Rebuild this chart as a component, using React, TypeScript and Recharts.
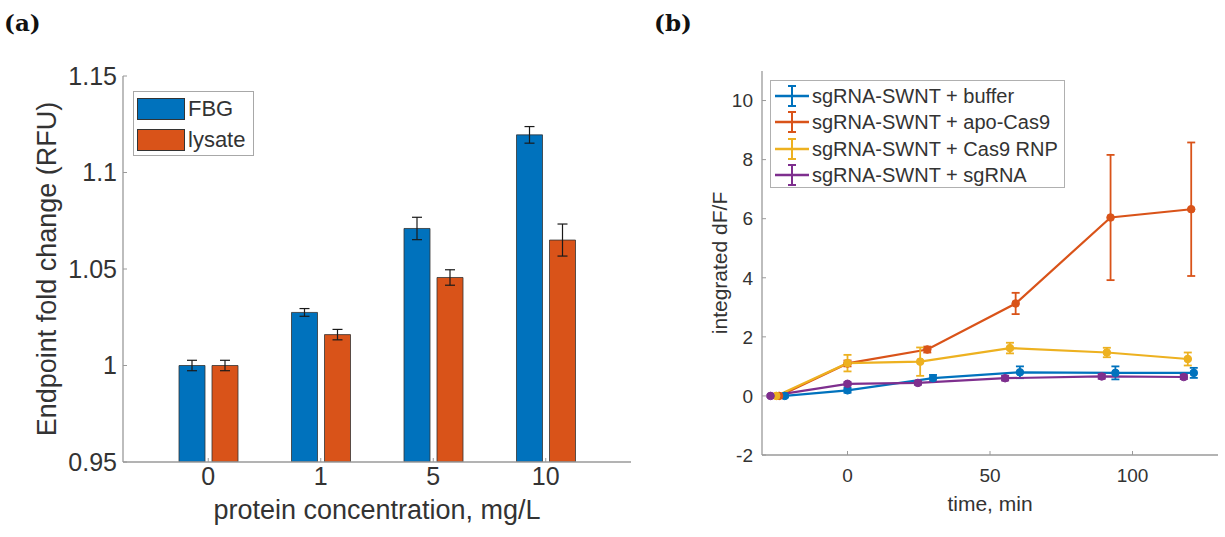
import { BarChart, Bar, LineChart, Line, XAxis, YAxis, ErrorBar, Legend } from 'recharts'

// panel (a): endpoint fold change vs protein concentration
const concLabels = ['0', '1', '5', '10']
const fbgMean = [1.0, 1.0275, 1.071, 1.1195]
const fbgErr = [0.0027, 0.002, 0.0058, 0.0043]
const lysateMean = [1.0, 1.016, 1.0456, 1.065]
const lysateErr = [0.0027, 0.0027, 0.004, 0.0083]
const yTicksA = [0.95, 1, 1.05, 1.1, 1.15]

// panel (b): integrated dF/F over time
const bufferT = [-22, 0, 30, 60.5, 94, 121.5]
const bufferV = [0, 0.19, 0.6, 0.8, 0.78, 0.78]
const bufferE = [0.05, 0.08, 0.11, 0.2, 0.22, 0.17]

const apoT = [-24, 0, 28, 59, 92.3, 120.6]
const apoV = [0, 1.1, 1.57, 3.13, 6.04, 6.32]
const apoE = [0.05, 0.1, 0.1, 0.36, 2.12, 2.26]

const rnpT = [-25, 0, 25.5, 57, 91, 119.4]
const rnpV = [0, 1.11, 1.16, 1.62, 1.47, 1.25]
const rnpE = [0.05, 0.28, 0.48, 0.18, 0.16, 0.22]

const sgT = [-27, 0, 24.7, 55.3, 89.2, 118]
const sgV = [0, 0.41, 0.44, 0.6, 0.66, 0.64]
const sgE = [0.04, 0.06, 0.06, 0.08, 0.08, 0.07]

const xTicksB = [0, 50, 100]
const yTicksB = [-2, 0, 2, 4, 6, 8, 10]

const FONT = '"Liberation Sans", Arial, Helvetica, sans-serif'
const AX = '#9a9a9a'
const TXT = '#333'

const barData = concLabels.map((c, i) => ({
  conc: c,
  fbg: fbgMean[i],
  fbgErr: fbgErr[i],
  lysate: lysateMean[i],
  lysateErr: lysateErr[i],
}))

const toPoints = (t: number[], v: number[], e: number[]) => t.map((x, i) => ({ t: x, v: v[i], e: e[i] }))

const seriesB = [
  { name: 'sgRNA-SWNT + buffer', color: '#0072BD', data: toPoints(bufferT, bufferV, bufferE) },
  { name: 'sgRNA-SWNT + apo-Cas9', color: '#D95319', data: toPoints(apoT, apoV, apoE) },
  { name: 'sgRNA-SWNT + Cas9 RNP', color: '#EDB120', data: toPoints(rnpT, rnpV, rnpE) },
  { name: 'sgRNA-SWNT + sgRNA', color: '#7E2F8E', data: toPoints(sgT, sgV, sgE) },
]
const namesB = seriesB.map((s) => s.name)
const namesA = ['FBG', 'lysate']

function BarLegend({ payload }: { payload?: Array<{ value: string; color: string }> }) {
  return (
    <div style={{ width: 121, height: 65, boxSizing: 'border-box', border: '1.5px solid #a8a8a8', background: '#fff', paddingTop: 1, fontFamily: FONT, fontSize: 22, color: TXT }}>
      {(payload || []).map((p) => (
        <div key={p.value} style={{ display: 'flex', alignItems: 'center', height: 31 }}>
          <span style={{ display: 'inline-block', width: 48, height: 22, marginLeft: 3, boxSizing: 'border-box', border: '1px solid #333', background: p.color }} />
          <span style={{ marginLeft: 3, lineHeight: '22px' }}>{p.value}</span>
        </div>
      ))}
    </div>
  )
}

function LineLegend({ payload }: { payload?: Array<{ value: string; color: string }> }) {
  return (
    <div style={{ width: 295, height: 108, boxSizing: 'border-box', border: '1.5px solid #b0b0b0', background: '#fff', paddingTop: 2, fontFamily: FONT, fontSize: 20, color: TXT }}>
      {(payload || []).map((p) => (
        <div key={p.value} style={{ display: 'flex', alignItems: 'center', height: 26.3 }}>
          <svg width={36} height={24} style={{ marginLeft: 2 }}>
            <line x1={2} y1={12} x2={36} y2={12} stroke={p.color} strokeWidth={2.5} />
            <line x1={19} y1={2} x2={19} y2={22} stroke={p.color} strokeWidth={2} />
            <line x1={15} y1={2} x2={23} y2={2} stroke={p.color} strokeWidth={2} />
            <line x1={15} y1={22} x2={23} y2={22} stroke={p.color} strokeWidth={2} />
          </svg>
          <span style={{ marginLeft: 3, lineHeight: '22px', whiteSpace: 'nowrap' }}>{p.value}</span>
        </div>
      ))}
    </div>
  )
}

const panelTag = { position: 'absolute' as const, top: 9, fontFamily: '"DejaVu Serif", serif', fontWeight: 700, fontSize: 23, color: '#111' }

export default function App() {
  const tickA = { fill: TXT, fontSize: 25, fontFamily: FONT }
  const tickB = { fill: TXT, fontSize: 19, fontFamily: FONT }
  return (
    <div style={{ position: 'absolute', left: 0, top: 0, width: 1225, height: 537, background: '#fff', overflow: 'hidden' }}>
      <div style={{ ...panelTag, left: 4 }}>(a)</div>
      <div style={{ ...panelTag, left: 654 }}>(b)</div>

      <div style={{ position: 'absolute', left: 0, top: 0 }}>
        <BarChart width={640} height={537} data={barData} margin={{ top: 76, right: 9, left: 23, bottom: 0 }} barGap={7} barCategoryGap="24%">
          <XAxis
            dataKey="conc" height={75} padding={{ left: 29, right: 29 }}
            axisLine={{ stroke: AX, strokeWidth: 1.3 }} tickLine={{ stroke: AX }} tickSize={-4} tickMargin={9}
            tick={tickA}
            label={{ value: 'protein concentration, mg/L', position: 'insideBottom', offset: 18, fill: TXT, fontSize: 27, fontFamily: FONT }}
          />
          <XAxis
            xAxisId="top" dataKey="conc" orientation="top" height={0} padding={{ left: 29, right: 29 }}
            axisLine={{ stroke: AX, strokeWidth: 1.3 }} tickLine={{ stroke: AX }} tickSize={-4} tick={false}
          />
          <YAxis
            domain={[0.95, 1.15]} ticks={yTicksA} allowDataOverflow width={100}
            axisLine={{ stroke: AX, strokeWidth: 1.3 }} tickLine={{ stroke: AX }} tickSize={-4} tickMargin={10}
            tick={tickA} tickFormatter={(v: number) => String(v)}
            label={{ value: 'Endpoint fold change (RFU)', angle: -90, position: 'insideLeft', offset: 23, style: { textAnchor: 'middle' }, fill: TXT, fontSize: 27, fontFamily: FONT }}
          />
          <YAxis
            yAxisId="right" orientation="right" width={0} domain={[0.95, 1.15]} ticks={yTicksA} allowDataOverflow
            axisLine={{ stroke: AX, strokeWidth: 1.3 }} tickLine={{ stroke: AX }} tickSize={-4} tick={false}
          />
          <Legend
            layout="horizontal" verticalAlign="middle" align="center"
            itemSorter={(item: any) => namesA.indexOf(item.value)}
            wrapperStyle={{ left: 133, top: 91, width: 'auto', height: 'auto' }}
            content={(props: any) => <BarLegend payload={props.payload} />}
          />
          <Bar dataKey="fbg" name="FBG" fill="#0072BD" stroke="#333" strokeWidth={0.8} isAnimationActive={false}>
            <ErrorBar dataKey="fbgErr" width={5} stroke="#1a1a1a" strokeWidth={1.2} />
          </Bar>
          <Bar dataKey="lysate" name="lysate" fill="#D95319" stroke="#333" strokeWidth={0.8} isAnimationActive={false}>
            <ErrorBar dataKey="lysateErr" width={5} stroke="#1a1a1a" strokeWidth={1.2} />
          </Bar>
        </BarChart>
      </div>

      <div style={{ position: 'absolute', left: 640, top: 0 }}>
        <LineChart width={585} height={537} margin={{ top: 71, right: 7, left: 22, bottom: 0 }}>
          <XAxis
            type="number" dataKey="t" domain={[-30, 130]} ticks={xTicksB} allowDataOverflow height={82}
            axisLine={{ stroke: AX, strokeWidth: 1.3 }} tickLine={{ stroke: AX }} tickSize={-4} tickMargin={18}
            tick={tickB}
            label={{ value: 'time, min', position: 'insideBottom', offset: 26, fill: TXT, fontSize: 21, fontFamily: FONT }}
          />
          <XAxis
            xAxisId="top" type="number" orientation="top" domain={[-30, 130]} ticks={xTicksB} allowDataOverflow height={0}
            axisLine={{ stroke: AX, strokeWidth: 1.3 }} tickLine={{ stroke: AX }} tickSize={-4} tick={false}
          />
          <YAxis
            type="number" domain={[-2, 11]} ticks={yTicksB} allowDataOverflow width={100}
            axisLine={{ stroke: AX, strokeWidth: 1.3 }} tickLine={{ stroke: AX }} tickSize={-4} tickMargin={13}
            tick={tickB}
            label={{ value: 'integrated dF/F', angle: -90, position: 'insideLeft', offset: 58, style: { textAnchor: 'middle' }, fill: TXT, fontSize: 21, fontFamily: FONT }}
          />
          <YAxis
            yAxisId="right" orientation="right" width={0} domain={[-2, 11]} ticks={yTicksB} allowDataOverflow
            axisLine={{ stroke: AX, strokeWidth: 1.3 }} tickLine={{ stroke: AX }} tickSize={-4} tick={false}
          />
          <Legend
            layout="horizontal" verticalAlign="middle" align="center"
            itemSorter={(item: any) => namesB.indexOf(item.value)}
            wrapperStyle={{ left: 130, top: 80, width: 'auto', height: 'auto' }}
            content={(props: any) => <LineLegend payload={props.payload} />}
          />
          {seriesB.map((s) => (
            <Line
              key={s.name} data={s.data} dataKey="v" name={s.name} type="linear"
              stroke={s.color} strokeWidth={2.2}
              dot={{ r: 3.8, fill: s.color, stroke: s.color, strokeWidth: 1 }}
              isAnimationActive={false}
            >
              <ErrorBar dataKey="e" direction="y" width={4} stroke={s.color} strokeWidth={1.8} />
            </Line>
          ))}
        </LineChart>
      </div>
    </div>
  )
}
